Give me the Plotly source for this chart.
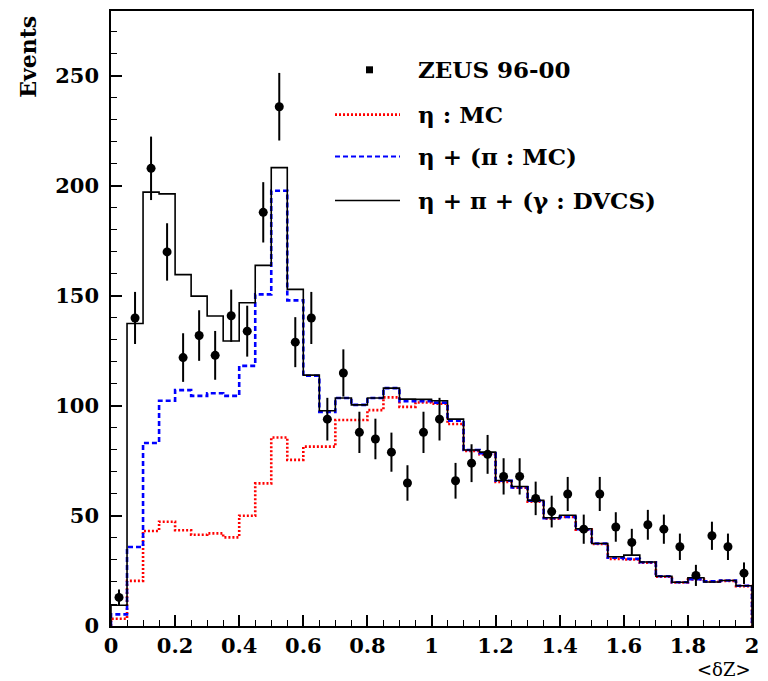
import plotly.graph_objects as go

# ---- data ----
bin_edges = [round(0.05 * i, 2) for i in range(41)]

total_mc = [9.4, 137.5, 197.2, 196.4, 159.7, 149.9, 140.9, 129.5, 146.9, 163.9,
            208.3, 153.0, 114.0, 97.8, 103.6, 100.5, 103.6, 108.1, 103.1, 103.0,
            102.4, 94.0, 80.0, 79.0, 66.1, 63.4, 57.1, 49.2, 50.3, 44.2,
            37.5, 31.5, 32.2, 29.1, 22.6, 19.9, 21.9, 20.0, 20.7, 18.3]

eta_pi_mc = [5.3, 35.9, 83.2, 102.4, 107.2, 104.6, 105.8, 104.6, 118.2, 150.7,
             197.8, 148.0, 113.7, 97.3, 103.6, 100.5, 103.6, 108.1, 102.2, 102.2,
             101.5, 93.3, 80.0, 78.5, 66.0, 63.0, 57.0, 49.0, 49.6, 44.0,
             37.5, 31.0, 30.5, 29.0, 22.6, 19.9, 21.3, 20.3, 20.7, 18.3]

eta_mc = [3.3, 20.5, 43.2, 47.4, 43.5, 41.5, 42.1, 40.3, 50.1, 64.8,
          85.7, 75.5, 81.5, 81.5, 93.6, 93.6, 98.1, 103.9, 99.6, 101.6,
          101.0, 91.8, 79.5, 78.0, 65.5, 62.8, 56.5, 48.8, 49.6, 43.8,
          37.3, 30.5, 30.2, 28.8, 22.4, 19.8, 21.1, 20.1, 20.5, 18.1]

data_x = [0.025, 0.075, 0.125, 0.175, 0.225, 0.275, 0.325, 0.375, 0.425, 0.475,
          0.525, 0.575, 0.625, 0.675, 0.725, 0.775, 0.825, 0.875, 0.925, 0.975,
          1.025, 1.075, 1.125, 1.175, 1.225, 1.275, 1.325, 1.375, 1.425, 1.475,
          1.525, 1.575, 1.625, 1.675, 1.725, 1.775, 1.825, 1.875, 1.925, 1.975]
data_y = [13, 140, 208, 170, 122, 132, 123, 141, 134, 188,
          236, 129, 140, 94, 115, 88, 85, 79, 65, 88,
          94, 66, 74, 78, 68, 68, 58, 52, 60, 44,
          60, 45, 38, 46, 44, 36, 23, 41, 36, 24]

legend_labels = ["ZEUS 96-00", "η : MC", "η + (π : MC)", "η + π + (γ : DVCS)"]
x_ticks = [0, 0.2, 0.4, 0.6, 0.8, 1, 1.2, 1.4, 1.6, 1.8, 2]
y_ticks = [0, 50, 100, 150, 200, 250]

FONT = "DejaVu Serif"


def step_xy(vals):
    xs = [bin_edges[0]] + bin_edges[:-1] + [bin_edges[-1], bin_edges[-1]]
    ys = [0] + list(vals) + [vals[-1], 0]
    return xs, ys


fig = go.Figure()

for vals, color, dash, width in [
    (eta_mc, "#ff0000", "2px,2px", 2.6),
    (eta_pi_mc, "#0000ff", "5px,3px", 2.6),
    (total_mc, "#000000", "solid", 1.6),
]:
    xs, ys = step_xy(vals)
    fig.add_trace(go.Scatter(x=xs, y=ys, mode="lines", line_shape="hv",
                             line=dict(color=color, width=width, dash=dash),
                             showlegend=False, hoverinfo="skip"))

err = [v ** 0.5 for v in data_y]
fig.add_trace(go.Scatter(x=data_x, y=data_y, mode="markers",
                         marker=dict(color="black", size=9, symbol="circle"),
                         error_y=dict(type="data", array=err, visible=True,
                                      color="black", thickness=2, width=0),
                         showlegend=False))

# ---- manual legend (paper coords) ----
def px_x(p):
    return (p - 111) / (752 - 111)


def px_y(p):
    return (626 - p) / (626 - 9)


leg_rows = [68, 113, 155, 199]
styles = [None, ("#ff0000", "2px,2px", 2.6), ("#0000ff", "5px,3px", 2.0), ("#000000", "solid", 1.5)]
for row, lab, sty in zip(leg_rows, legend_labels, styles):
    if sty is None:
        fig.add_shape(type="rect", xref="paper", yref="paper",
                      x0=px_x(366), x1=px_x(373), y0=px_y(71.5), y1=px_y(64.5),
                      fillcolor="black", line=dict(width=0))
    else:
        fig.add_shape(type="line", xref="paper", yref="paper",
                      x0=px_x(335), x1=px_x(400), y0=px_y(row), y1=px_y(row),
                      line=dict(color=sty[0], dash=sty[1], width=sty[2]))
    fig.add_annotation(xref="paper", yref="paper", x=px_x(416), y=px_y(row),
                       text="<b>" + lab + "</b>", showarrow=False,
                       xanchor="left", yanchor="middle",
                       font=dict(family=FONT, size=23, color="black"))

fig.add_annotation(xref="paper", yref="paper", x=px_x(28), y=px_y(55),
                   text="<b>Events</b>", textangle=-90, showarrow=False,
                   xanchor="center", yanchor="middle",
                   font=dict(family=FONT, size=22, color="black"))
fig.add_annotation(xref="paper", yref="paper", x=px_x(752), y=px_y(681),
                   text="&lt;δZ&gt;", showarrow=False, borderpad=0,
                   xanchor="right", yanchor="bottom",
                   font=dict(family=FONT, size=18, color="black"))

fig.update_xaxes(range=[0, 2], tickvals=x_ticks, ticktext=[str(t) for t in x_ticks],
                 ticks="inside", ticklen=11, tickwidth=1.5, tickcolor="black",
                 minor=dict(dtick=0.05, ticks="inside", ticklen=6, tickwidth=1.2, tickcolor="black"),
                 showline=True, linecolor="black", linewidth=1.5, mirror=True,
                 showgrid=False, zeroline=False,
                 tickfont=dict(family=FONT, size=21, color="black", weight="bold"),
                 ticklabelstandoff=0)
fig.update_yaxes(range=[0, 279.5], tickvals=y_ticks,
                 ticks="inside", ticklen=11, tickwidth=1.5, tickcolor="black",
                 minor=dict(dtick=10, ticks="inside", ticklen=6, tickwidth=1.2, tickcolor="black"),
                 showline=True, linecolor="black", linewidth=1.5, mirror=True,
                 showgrid=False, zeroline=False,
                 tickfont=dict(family=FONT, size=21, color="black", weight="bold"),
                 ticklabelstandoff=6)

fig.update_layout(width=768, height=681, plot_bgcolor="white", paper_bgcolor="white",
                  margin=dict(l=111, r=16, t=9, b=55), showlegend=False)

fig.write_html("out.html")
